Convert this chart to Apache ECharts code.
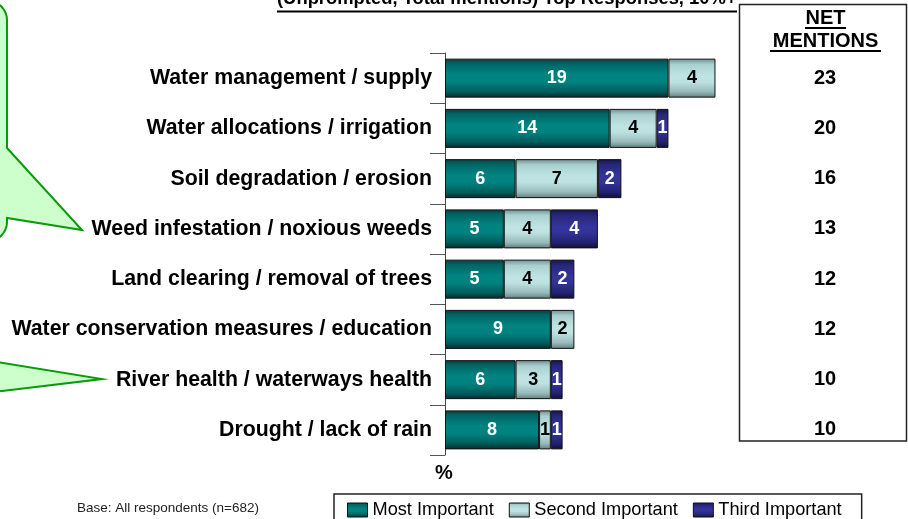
<!DOCTYPE html>
<html>
<head>
<meta charset="utf-8">
<script src="https://cdn.jsdelivr.net/npm/echarts@6/dist/echarts.min.js"></script>
<style>
html,body{margin:0;padding:0;background:#fff;}
#chart{width:908px;height:519px;}
</style>
</head>
<body>
<div id="chart"></div>
<script>
// ---- data ----
const categories = [
  'Water management / supply',
  'Water allocations / irrigation',
  'Soil degradation / erosion',
  'Weed infestation / noxious weeds',
  'Land clearing / removal of trees',
  'Water conservation measures / education',
  'River health / waterways health',
  'Drought / lack of rain'
];
const mostImportant   = [19, 14, 6, 5, 5, 9, 6, 8];
const secondImportant = [4, 4, 7, 4, 4, 2, 3, 1];
const thirdImportant  = [null, 1, 2, 4, 2, null, 1, 1];
const netMentions     = [23, 20, 16, 13, 12, 12, 10, 10];
const seriesNames = ['Most Important', 'Second Important', 'Third Important'];
const headerText = '(Unprompted, Total mentions) Top Responses, 10%+';
const netTitle = ['NET', 'MENTIONS'];
const baseText = 'Base: All respondents (n=682)';
const unitText = '%';

// ---- styles ----
const FONT = '"Liberation Sans", Arial, Helvetica, sans-serif';
function grad(stops) {
  return { type: 'linear', x: 0, y: 0, x2: 0, y2: 1,
    colorStops: stops.map(s => ({ offset: s[0], color: s[1] })) };
}
const tealGrad = grad([[0,'#103838'],[0.12,'#006363'],[0.4,'#008381'],[0.6,'#008280'],[0.85,'#005c5c'],[1,'#0a2a2a']]);
const lightGrad = grad([[0,'#6f8c8c'],[0.15,'#a9d0d0'],[0.45,'#c0e4e4'],[0.6,'#bde1e1'],[0.85,'#97b9b9'],[1,'#617c7c']]);
const navyGrad = grad([[0,'#15154a'],[0.15,'#27277e'],[0.45,'#34349c'],[0.6,'#323298'],[0.85,'#222270'],[1,'#0e0e36']]);

function barSeries(name, data, color, labelColor) {
  return {
    name: name,
    type: 'bar',
    stack: 'total',
    barWidth: 39,
    data: data,
    itemStyle: { color: color, borderColor: '#111', borderWidth: 1 },
    label: {
      show: true, position: 'inside',
      color: labelColor, fontFamily: FONT, fontWeight: 'bold', fontSize: 18
    },
    emphasis: { disabled: true }
  };
}

// rounded-corner helper for the decorative callout outline
function arcPts(cx, cy, r, a0, a1, n) {
  const pts = [];
  for (let i = 0; i <= n; i++) {
    const a = (a0 + (a1 - a0) * i / n) * Math.PI / 180;
    pts.push([cx + r * Math.cos(a), cy + r * Math.sin(a)]);
  }
  return pts;
}
const bubble1 = [[-60, -12]]
  .concat(arcPts(-12, 20, 19, -90, 0, 8))
  .concat([[7, 148], [82, 230], [7, 218]])
  .concat(arcPts(-12, 222, 19, 0, 90, 8))
  .concat([[-60, 241]]);

const chart = echarts.init(document.getElementById('chart'), null, { renderer: 'canvas' });
const option = {
  animation: false,
  backgroundColor: '#ffffff',
  textStyle: { fontFamily: FONT },
  grid: { left: 445, top: 53, right: 169, bottom: 64, containLabel: false },
  xAxis: {
    type: 'value', min: 0, max: 25,
    show: false
  },
  yAxis: [
    {
      type: 'category',
      data: categories,
      inverse: true,
      axisLine: { show: true, lineStyle: { color: '#444', width: 1 } },
      axisTick: { show: true, length: 15, lineStyle: { color: '#555', width: 1 } },
      axisLabel: {
        margin: 13, color: '#000', fontFamily: FONT, fontWeight: 'bold', fontSize: 21.3
      },
      splitLine: { show: false }
    },
    {
      type: 'category',
      data: netMentions.map(String),
      inverse: true,
      position: 'right',
      axisLine: { show: false },
      axisTick: { show: false },
      axisLabel: {
        margin: 86, align: 'center', color: '#000', fontFamily: FONT, fontWeight: 'bold', fontSize: 20,
        padding: [0, 0, 5, 0]
      },
      splitLine: { show: false }
    }
  ],
  legend: {
    data: seriesNames,
    left: 334, top: 494,
    orient: 'horizontal',
    padding: [7, 20, 10, 13],
    itemGap: 15,
    itemWidth: 20, itemHeight: 14,
    icon: 'rect',
    borderColor: '#222', borderWidth: 1.5,
    itemStyle: { borderColor: '#111', borderWidth: 1 },
    textStyle: { color: '#000', fontFamily: FONT, fontSize: 18.2 },
    selectedMode: false
  },
  series: [
    barSeries(seriesNames[0], mostImportant, tealGrad, '#ffffff'),
    barSeries(seriesNames[1], secondImportant, lightGrad, '#000000'),
    barSeries(seriesNames[2], thirdImportant, navyGrad, '#ffffff')
  ],
  graphic: [
    {
      type: 'polygon', silent: true, z: 1,
      shape: { points: bubble1 },
      style: { fill: '#ccffcc', stroke: '#0a9a0a', lineWidth: 2 }
    },
    {
      type: 'polygon', silent: true, z: 1,
      shape: { points: [[-40, 356], [102, 379], [-40, 396], [-60, 396], [-60, 356]] },
      style: { fill: '#ccffcc', stroke: '#0a9a0a', lineWidth: 2 }
    },
    {
      type: 'text', silent: true, x: 277, y: 7.5,
      style: { text: headerText, fill: '#000', font: 'bold 18.4px ' + FONT, align: 'left', verticalAlign: 'bottom' }
    },
    { type: 'line', silent: true, shape: { x1: 277, y1: 11.5, x2: 737, y2: 11.5 }, style: { stroke: '#000', lineWidth: 2 } },
    { type: 'rect', silent: true, shape: { x: 739.5, y: 4.5, width: 167, height: 436.5 }, style: { fill: 'none', stroke: '#222', lineWidth: 1.5 } },
    {
      type: 'text', silent: true, x: 825.5, y: 18,
      style: { text: netTitle[0], fill: '#000', font: 'bold 20px ' + FONT, align: 'center', verticalAlign: 'middle' }
    },
    { type: 'line', silent: true, shape: { x1: 805, y1: 28, x2: 846, y2: 28 }, style: { stroke: '#000', lineWidth: 2 } },
    {
      type: 'text', silent: true, x: 825.5, y: 41,
      style: { text: netTitle[1], fill: '#000', font: 'bold 20px ' + FONT, align: 'center', verticalAlign: 'middle' }
    },
    { type: 'line', silent: true, shape: { x1: 770, y1: 51, x2: 881, y2: 51 }, style: { stroke: '#000', lineWidth: 2 } },
    {
      type: 'text', silent: true, x: 444, y: 473,
      style: { text: unitText, fill: '#000', font: 'bold 20px ' + FONT, align: 'center', verticalAlign: 'middle' }
    },
    {
      type: 'text', silent: true, x: 77, y: 508,
      style: { text: baseText, fill: '#222', font: '13.5px ' + FONT, align: 'left', verticalAlign: 'middle' }
    }
  ]
};
chart.setOption(option);
</script>
</body>
</html>
